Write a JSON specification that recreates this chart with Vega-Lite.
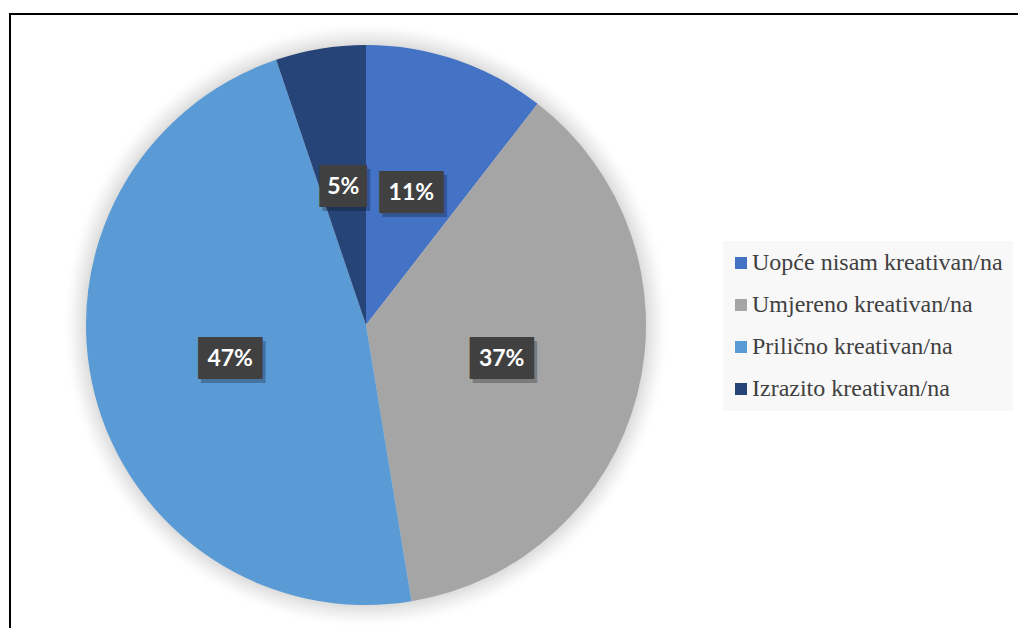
{
  "$schema": "https://vega.github.io/schema/vega-lite/v6.json",
  "padding": {"left": 8, "top": 12, "right": 0, "bottom": -6},
  "background": "white",
  "datasets": {
    "pie": [
      {"kategorija": "Uopće nisam kreativan/na", "udio": 10.5, "oznaka": "11%", "redoslijed": 1},
      {"kategorija": "Umjereno kreativan/na", "udio": 36.9, "oznaka": "37%", "redoslijed": 2},
      {"kategorija": "Prilično kreativan/na", "udio": 47.4, "oznaka": "47%", "redoslijed": 3},
      {"kategorija": "Izrazito kreativan/na", "udio": 5.2, "oznaka": "5%", "redoslijed": 4}
    ],
    "jedan": [{"n": 1}]
  },
  "hconcat": [
    {
      "width": 712,
      "height": 622,
      "view": {"stroke": "black", "strokeWidth": 2, "strokeCap": "square", "strokeDash": [712, 1334, 622, 10]},
      "data": {"name": "pie"},
      "layer": [
        {
          "data": {"name": "jedan"},
          "mark": {
            "type": "arc",
            "theta": 0,
            "theta2": 6.2832,
            "outerRadius": 304,
            "fill": {
              "gradient": "radial",
              "x1": 0.5, "y1": 0.5, "r1": 0,
              "x2": 0.5, "y2": 0.5, "r2": 0.5,
              "stops": [
                {"offset": 0, "color": "rgba(200,200,200,0.7)"},
                {"offset": 0.92, "color": "rgba(200,200,200,0.65)"},
                {"offset": 0.96, "color": "rgba(220,220,220,0.35)"},
                {"offset": 1, "color": "rgba(255,255,255,0)"}
              ]
            }
          },
          "encoding": {}
        },
        {
          "mark": {"type": "arc", "outerRadius": 280},
          "encoding": {
            "theta": {"field": "udio", "type": "quantitative", "stack": true},
            "order": {"field": "redoslijed", "type": "quantitative"},
            "color": {
              "field": "kategorija",
              "type": "nominal",
              "sort": ["Uopće nisam kreativan/na", "Umjereno kreativan/na", "Prilično kreativan/na", "Izrazito kreativan/na"],
              "scale": {
                "domain": ["Uopće nisam kreativan/na", "Umjereno kreativan/na", "Prilično kreativan/na", "Izrazito kreativan/na"],
                "range": ["#4472C4", "#A5A5A5", "#5B9BD5", "#264478"]
              },
              "legend": {
                "title": null,
                "orient": "none",
                "legendX": 713,
                "legendY": 227,
                "fillColor": "#f8f8f8",
                "padding": 10,
                "symbolType": "square",
                "symbolSize": 144,
                "symbolStrokeWidth": 0,
                "symbolOffset": -4,
                "labelFont": "Liberation Serif",
                "labelFontSize": 24,
                "labelColor": "#404040",
                "labelOffset": -1,
                "labelLimit": 400,
                "rowPadding": 18
              }
            }
          }
        },
        {
          "mark": {"type": "text", "radius": 140, "font": "DejaVu Sans Mono", "fontSize": 35.4, "color": "#000000", "opacity": 0.25, "dx": 3, "dy": 4, "baseline": "middle", "align": "center"},
          "encoding": {
            "theta": {"field": "udio", "type": "quantitative", "stack": true},
            "order": {"field": "redoslijed", "type": "quantitative"},
            "text": {"condition": {"test": "length(datum.oznaka) < 3", "value": "▕██▏"}, "value": "███"}
          }
        },
        {
          "mark": {"type": "text", "radius": 140, "font": "DejaVu Sans Mono", "fontSize": 35.4, "color": "#404040", "baseline": "middle", "align": "center"},
          "encoding": {
            "theta": {"field": "udio", "type": "quantitative", "stack": true},
            "order": {"field": "redoslijed", "type": "quantitative"},
            "text": {"condition": {"test": "length(datum.oznaka) < 3", "value": "▕██▏"}, "value": "███"}
          }
        },
        {
          "mark": {"type": "text", "radius": 140, "font": "Lato", "fontWeight": "bold", "fontSize": 23, "color": "#ffffff", "baseline": "middle", "align": "center"},
          "encoding": {
            "theta": {"field": "udio", "type": "quantitative", "stack": true},
            "order": {"field": "redoslijed", "type": "quantitative"},
            "text": {"field": "oznaka", "type": "nominal"}
          }
        }
      ]
    },
    {
      "width": 298,
      "height": 614,
      "view": {"stroke": "black", "strokeWidth": 2, "strokeCap": "square", "strokeDash": [298, 5000]},
      "data": {"name": "jedan"},
      "mark": {"type": "text", "opacity": 0},
      "encoding": {"text": {"value": ""}}
    }
  ],
  "spacing": 0,
  "bounds": "flush",
  "config": {"view": {"stroke": null}}
}
